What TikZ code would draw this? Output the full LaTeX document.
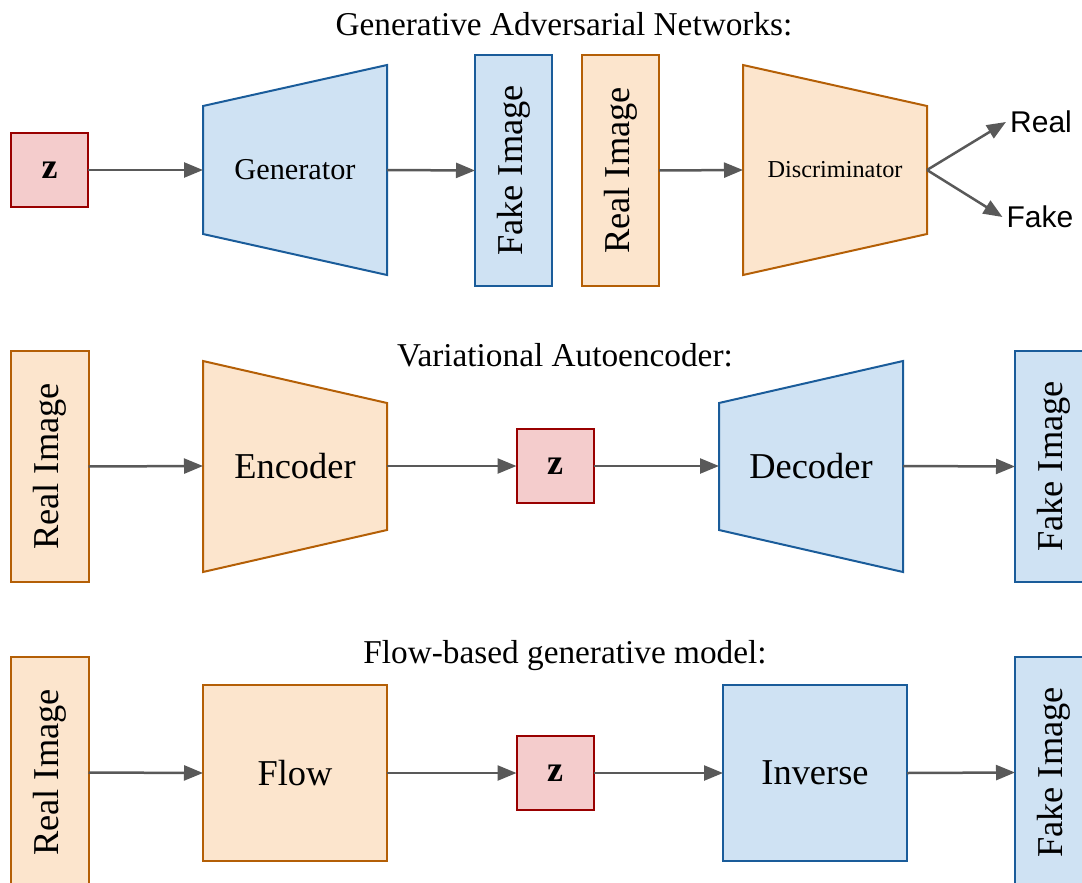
\documentclass[tikz,border=0pt]{standalone}
\usepackage{fontspec}
\setmainfont{Liberation Serif}
\newfontfamily\arialfont{Liberation Sans}
\usetikzlibrary{arrows.meta}
\definecolor{bluefill}{HTML}{CFE2F3}
\definecolor{bluedraw}{HTML}{1A5C9A}
\definecolor{orangefill}{HTML}{FCE5CD}
\definecolor{orangedraw}{HTML}{B45F06}
\definecolor{redfill}{HTML}{F4CCCC}
\definecolor{reddraw}{HTML}{990000}
\definecolor{arrowgray}{HTML}{595959}
\begin{document}
\begin{tikzpicture}[x=1bp,y=-1bp,
  box/.style={draw, line width=2bp, inner sep=0pt, outer sep=0pt},
  bluebox/.style={fill=bluefill, draw=bluedraw},
  orangebox/.style={fill=orangefill, draw=orangedraw},
  zbox/.style={box, fill=redfill, draw=reddraw, minimum width=77bp, minimum height=74bp,
    font=\fontsize{36bp}{40bp}\selectfont\bfseries},
  imgbox/.style={box, minimum width=77bp, minimum height=231bp},
  bigbox/.style={box, minimum width=184bp, minimum height=176bp,
    font=\fontsize{36.4bp}{40bp}\selectfont},
  vlabel/.style={rotate=90, inner sep=0pt, font=\fontsize{36.4bp}{40bp}\selectfont},
  traplabel/.style={inner sep=0pt, outer sep=0pt, minimum width=184bp},
  titletext/.style={anchor=base, inner sep=0pt, font=\fontsize{33.3bp}{36bp}\selectfont},
  outtext/.style={inner sep=4bp, font=\arialfont\fontsize{30bp}{34bp}\selectfont},
  conn/.style={draw=arrowgray, line width=2.5bp, -{Triangle[length=19bp,width=15bp]}}
]
\useasboundingbox (0,0) rectangle (1082,883);
\clip (0,0) rectangle (1082,883);

% ---------- Generative Adversarial Networks ----------
\node[titletext] (t1) at (564,35) {Generative Adversarial Networks:};

\node[zbox] (z1) at (49.5,170) {z};

\draw[box, bluebox] (203,106) -- (387,65) -- (387,275) -- (203,234) -- cycle;
\node[traplabel, minimum height=128bp, font=\fontsize{30.3bp}{34bp}\selectfont] (gen) at (295,170) {Generator};

\node[imgbox, bluebox] (fake1) at (513.5,170.5) {};
\node[vlabel] at (fake1) {Fake Image};

\node[imgbox, orangebox] (real1) at (620.5,170.5) {};
\node[vlabel] at (real1) {Real Image};

\draw[box, orangebox] (743,65) -- (927,106) -- (927,234) -- (743,275) -- cycle;
\node[traplabel, minimum height=128bp, font=\fontsize{24.3bp}{28bp}\selectfont] (disc) at (835,170) {Discriminator};

\node[outtext] (realout) at (1041,122) {Real};
\node[outtext] (fakeout) at (1040,217) {Fake};

\draw[conn] (z1.east) -- (gen.west);
\draw[conn] (gen.east) -- (fake1.west);
\draw[conn] (real1.east) -- (disc.west);
\draw[conn] (disc.east) -- (realout.west);
\draw[conn] (disc.east) -- (fakeout.west);

% ---------- Variational Autoencoder ----------
\node[titletext] (t2) at (565,366) {Variational Autoencoder:};

\node[imgbox, orangebox] (real2) at (50,466.5) {};
\node[vlabel] at (real2) {Real Image};

\draw[box, orangebox] (203,361) -- (387,403) -- (387,530) -- (203,572) -- cycle;
\node[traplabel, minimum height=127bp, font=\fontsize{36.4bp}{40bp}\selectfont] (enc) at (295,466) {Encoder};

\node[zbox] (z2) at (555,466) {z};

\draw[box, bluebox] (719,403) -- (903,361) -- (903,572) -- (719,530) -- cycle;
\node[traplabel, minimum height=127bp, font=\fontsize{36.4bp}{40bp}\selectfont] (dec) at (811,466) {Decoder};

\node[imgbox, bluebox] (fake2) at (1053.5,466.5) {};
\node[vlabel] at (fake2) {Fake Image};

\draw[conn] (real2.east) -- (enc.west);
\draw[conn] (enc.east) -- (z2.west);
\draw[conn] (z2.east) -- (dec.west);
\draw[conn] (dec.east) -- (fake2.west);

% ---------- Flow-based generative model ----------
\node[titletext] (t3) at (565,663) {Flow-based generative model:};

\node[imgbox, orangebox] (real3) at (50,772.5) {};
\node[vlabel] at (real3) {Real Image};

\node[bigbox, orangebox] (flow) at (295,773) {Flow};

\node[zbox] (z3) at (555,773) {z};

\node[bigbox, bluebox] (inv) at (815,773) {Inverse};

\node[imgbox, bluebox] (fake3) at (1053.5,772.5) {};
\node[vlabel] at (fake3) {Fake Image};

\draw[conn] (real3.east) -- (flow.west);
\draw[conn] (flow.east) -- (z3.west);
\draw[conn] (z3.east) -- (inv.west);
\draw[conn] (inv.east) -- (fake3.west);
\end{tikzpicture}
\end{document}
